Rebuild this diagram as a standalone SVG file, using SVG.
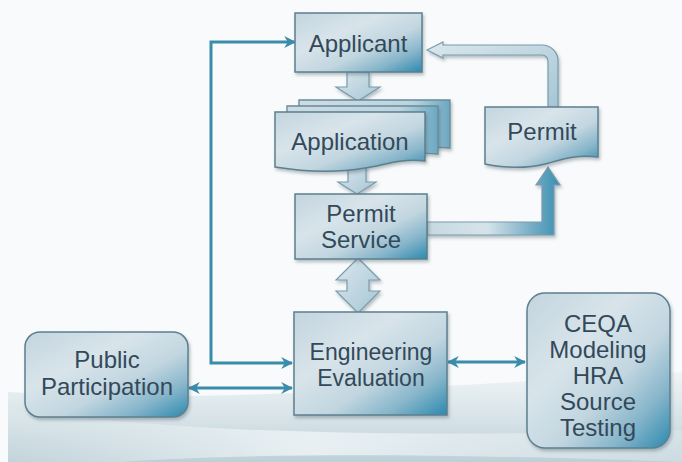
<svg xmlns="http://www.w3.org/2000/svg" width="682" height="462" viewBox="0 0 682 462">
  <defs>
    <linearGradient id="bgBand" gradientUnits="userSpaceOnUse" x1="0" y1="360" x2="0" y2="462">
      <stop offset="0" stop-color="#f6f8f9"/>
      <stop offset="0.5" stop-color="#dbe6ea"/>
      <stop offset="1" stop-color="#bdd0d8"/>
    </linearGradient>
    <linearGradient id="swoosh" gradientUnits="userSpaceOnUse" x1="0" y1="0" x2="682" y2="0">
      <stop offset="0" stop-color="#e6eef1" stop-opacity="0.1"/>
      <stop offset="0.45" stop-color="#eef4f6" stop-opacity="0.85"/>
      <stop offset="1" stop-color="#e3ecf0" stop-opacity="0.4"/>
    </linearGradient>
    <linearGradient id="nodeFill" x1="0" y1="0" x2="1" y2="1">
      <stop offset="0" stop-color="#c3d5df"/>
      <stop offset="0.35" stop-color="#d8e4ea"/>
      <stop offset="0.6" stop-color="#c2d6e0"/>
      <stop offset="0.8" stop-color="#86b5ca"/>
      <stop offset="1" stop-color="#2b89af"/>
    </linearGradient>
    <linearGradient id="layerFill" x1="0" y1="0" x2="1" y2="0">
      <stop offset="0" stop-color="#cddce4"/>
      <stop offset="0.75" stop-color="#bcd4df"/>
      <stop offset="1" stop-color="#6aa8c2"/>
    </linearGradient>
    <linearGradient id="blockFill" x1="0" y1="0" x2="1" y2="1">
      <stop offset="0" stop-color="#dbe7ed"/>
      <stop offset="1" stop-color="#a5c6d5"/>
    </linearGradient>
    <linearGradient id="sideArrowFill" gradientUnits="userSpaceOnUse" x1="427" y1="0" x2="560" y2="0">
      <stop offset="0" stop-color="#c6d8e1"/>
      <stop offset="0.45" stop-color="#d6e4ea"/>
      <stop offset="0.8" stop-color="#72abc4"/>
      <stop offset="1" stop-color="#3a8fb1"/>
    </linearGradient>
    <filter id="shadow" x="-10%" y="-10%" width="125%" height="130%">
      <feDropShadow dx="1.5" dy="2.5" stdDeviation="1.8" flood-color="#3a5560" flood-opacity="0.35"/>
    </filter>
    <marker id="tip" viewBox="0 0 10 10" refX="9" refY="5" markerWidth="4" markerHeight="4" orient="auto-start-reverse" markerUnits="strokeWidth">
      <path d="M0,0 L10,5 L0,10 L3,5 Z" fill="#3a8cab"/>
    </marker>
  </defs>
  <style>
    .box { fill: url(#nodeFill); stroke: #5d7f8e; stroke-width: 1.5; filter: url(#shadow); }
    .layer { fill: url(#layerFill); stroke: #6a8a98; stroke-width: 1.3; filter: url(#shadow); }
    .block { fill: url(#blockFill); stroke: #7b9cab; stroke-width: 1.2; filter: url(#shadow); }
    .link { fill: none; stroke: #3a8cab; stroke-width: 3; }
    .label { font-family: "Liberation Sans", Arial, sans-serif; font-size: 24px; fill: #33495a; text-anchor: middle; }
    .tight { font-size: 23px; }
  </style>

  <!-- background -->
  <rect x="0" y="0" width="682" height="462" fill="#f8fafb"/>
  <path d="M8,392 C200,405 450,385 682,372 V462 H8 Z" fill="url(#bgBand)"/>
  <path d="M8,410 C160,428 330,440 682,430 V462 C470,454 260,452 120,462 H8 Z" fill="url(#swoosh)"/>

  <!-- connectors -->
  <g id="connectors">
    <path class="link" d="M295,42 H211 V363 H292" marker-start="url(#tip)" marker-end="url(#tip)"/>
    <path class="link" d="M189,388 H292" marker-start="url(#tip)" marker-end="url(#tip)"/>
    <path class="link" d="M448,362 H525" marker-start="url(#tip)" marker-end="url(#tip)"/>
    <!-- Applicant to Application -->
    <path class="block" d="M347,72 L369,72 L369,87 L380,87 L358,101 L336,87 L347,87 Z"/>
    <!-- Application to Permit Service -->
    <path class="block" d="M348,166 L366,166 L366,182 L376,182 L357,194 L338,182 L348,182 Z"/>
    <!-- Permit Service to and from Engineering Evaluation -->
    <path class="block" d="M358,258 L380,280 L369,280 L369,291 L380,291 L358,313 L336,291 L347,291 L347,280 L336,280 Z"/>
    <!-- Permit Service to Permit -->
    <path class="block" style="fill:url(#sideArrowFill)" d="M427,222 L542,222 L542,185 L536,185 L548,167 L560,185 L554,185 L554,235 L427,235 Z"/>
    <!-- Permit back to Applicant -->
    <path class="block" d="M427,50 L443,42 L443,45 L542,45 A16,16 0 0 1 558,61 L558,108 L548,108 L548,61 A6,6 0 0 0 542,55 L443,55 L443,58 Z"/>
  </g>

  <g id="applicant">
    <rect class="box" x="295" y="13" width="127" height="59"/>
    <text class="label" x="358" y="52">Applicant</text>
  </g>

  <g id="application">
    <path class="layer" d="M299,100 H450 V148 C425,145 410,152 390,155 C360,160 325,158 299,154 Z"/>
    <path class="layer" d="M287,106 H438 V154 C413,151 398,158 378,161 C348,166 313,164 287,160 Z"/>
    <path class="box" d="M275,112 H425 V161 C400,158 385,165 365,168 C335,173 300,171 275,167 Z"/>
    <text class="label" x="350" y="150">Application</text>
  </g>

  <g id="permit">
    <path class="box" d="M485,107 H598 V157 C575,154 560,160 545,164 C525,169 505,168 485,164 Z"/>
    <text class="label" x="542" y="140">Permit</text>
  </g>

  <g id="permit-service">
    <rect class="box" x="295" y="194" width="132" height="65"/>
    <text class="label" x="361" y="222">Permit</text>
    <text class="label" x="361" y="248">Service</text>
  </g>

  <g id="engineering-evaluation">
    <rect class="box" x="294" y="312" width="153" height="103"/>
    <text class="label tight" x="371" y="360">Engineering</text>
    <text class="label tight" x="371" y="386">Evaluation</text>
  </g>

  <g id="public-participation">
    <rect class="box" x="25" y="332" width="163" height="85" rx="15" ry="15"/>
    <text class="label" x="107" y="368">Public</text>
    <text class="label" x="107" y="395">Participation</text>
  </g>

  <g id="ceqa">
    <rect class="box" x="527" y="293" width="143" height="155" rx="18" ry="18"/>
    <text class="label" x="598" y="332">CEQA</text>
    <text class="label" x="598" y="358">Modeling</text>
    <text class="label" x="598" y="384">HRA</text>
    <text class="label" x="598" y="410">Source</text>
    <text class="label" x="598" y="436">Testing</text>
  </g>
</svg>
